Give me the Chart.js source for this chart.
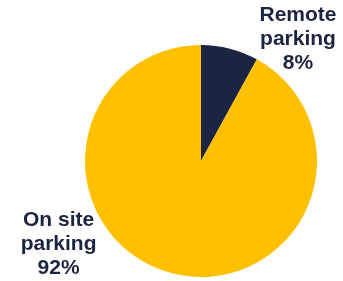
<!DOCTYPE html>
<html>
<head>
<meta charset="utf-8">
<script src="https://cdn.jsdelivr.net/npm/chart.js@4"></script>
<style>
  html, body { margin: 0; padding: 0; background: #fff; }
  #wrap { width: 343px; height: 281px; position: relative; }
</style>
</head>
<body>
<div id="wrap"><canvas id="miGrafica"></canvas></div>
<script>
// Datos del gráfico
const categorias = ['Remote parking', 'On site parking'];
const valores = [8, 92];
const colores = ['#1b2440', '#ffc000'];

// Etiquetas fuera del pastel (posición relativa al centro, en radios)
const etiquetasPlugin = {
  id: 'etiquetas',
  afterDraw(chart, args, opts) {
    const ctx = chart.ctx;
    const meta = chart.getDatasetMeta(0);
    const total = valores.reduce((a, b) => a + b, 0);
    ctx.save();
    ctx.fillStyle = opts.color;
    ctx.font = opts.font;
    ctx.textAlign = 'center';
    ctx.textBaseline = 'alphabetic';
    meta.data.forEach((arc, i) => {
      const r = arc.outerRadius;
      const cx = arc.x + opts.offsets[i][0] * r;
      const cy = arc.y + opts.offsets[i][1] * r;
      const palabras = categorias[i].split(' ');
      const lineas = [palabras.slice(0, -1).join(' '), palabras[palabras.length - 1],
        Math.round(valores[i] / total * 100) + '%'];
      lineas.forEach((t, j) => {
        ctx.fillText(t, cx, cy + (j - 1) * opts.lineHeight);
      });
    });
    ctx.restore();
  }
};

document.addEventListener('DOMContentLoaded', function() {
  const ctx = document.getElementById('miGrafica').getContext('2d');
  new Chart(ctx, {
    type: 'pie',
    data: {
      labels: categorias,
      datasets: [{
        data: valores,
        backgroundColor: colores,
        borderWidth: 0
      }]
    },
    options: {
      responsive: true,
      maintainAspectRatio: false,
      animation: false,
      layout: { padding: { top: 45, bottom: 4, left: 85, right: 26 } },
      plugins: {
        legend: { display: false },
        tooltip: { enabled: false },
        etiquetas: {
          color: '#1b2440',
          font: 'bold 21px "Liberation Sans", Arial, sans-serif',
          lineHeight: 24,
          offsets: [[0.836, -1.004], [-1.228, 0.763]]
        }
      }
    },
    plugins: [etiquetasPlugin]
  });
});
</script>
</body>
</html>
